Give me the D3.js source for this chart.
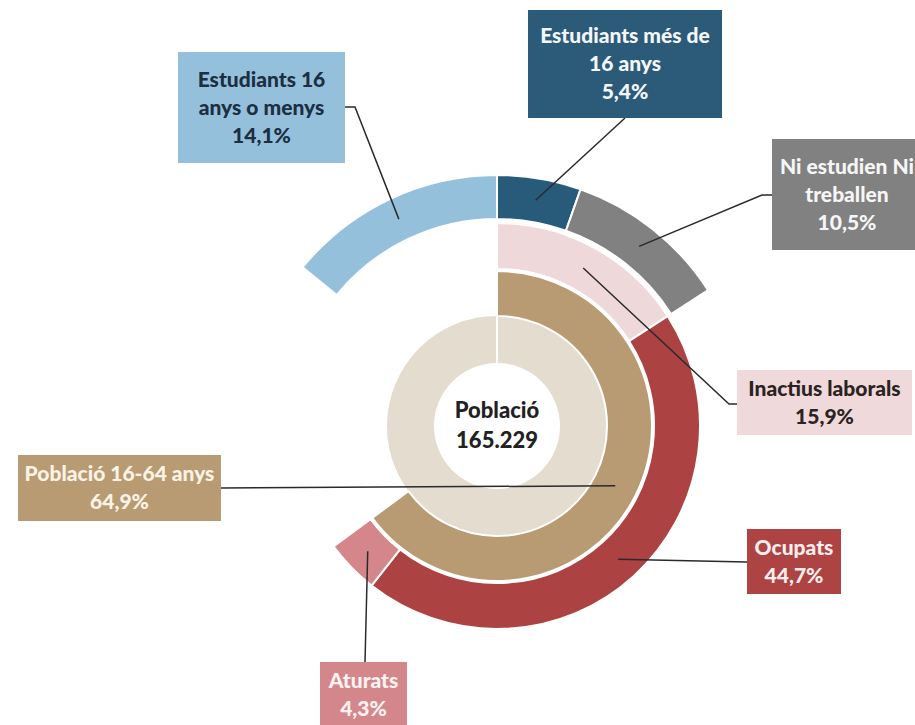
<!DOCTYPE html>
<html>
<head>
<meta charset="utf-8">
<script src="https://cdn.jsdelivr.net/npm/d3@7"></script>
<style>
    body { margin: 0; background: #fff; }
    text { font-family: "Lato", "Open Sans", sans-serif; font-weight: 900; }
</style>
</head>
<body>
<div id="chart"></div>
<script>
// ---------------------------//
//       DATA                 //
// ---------------------------//
let totalLabel = "Població";
let totalValue = 165229;

// ring 2: age
let ageCats = ["Població 16-64 anys"];
let agePct = [64.9];

// ring 3: activity (inside 16-64)
let activityCats = ["Inactius laborals", "Ocupats", "Aturats"];
let activityPct = [15.9, 44.7, 4.3];

// ring 4: studies
let studyCats = ["Estudiants més de 16 anys", "Ni estudien Ni treballen", "Estudiants 16 anys o menys"];
let studyPct = [5.4, 10.5, 14.1];

// set the dimensions of the graph
let width = 915,
    height = 725,
    cx = 497,
    cy = 426;

let locale = d3.formatLocale({ decimal: ",", thousands: ".", grouping: [3], currency: ["", "€"] });
let fmtPct = d => locale.format(".1f")(d) + "%";
let fmtInt = locale.format(",d");

let svg = d3.select("#chart")
    .append("svg")
    .attr("width", width)
    .attr("height", height);

let g = svg.append("g")
    .attr("transform", "translate(" + cx + "," + cy + ")");

// angle scale: percent -> radians, clockwise from top
let angle = d3.scaleLinear()
    .domain([0, 100])
    .range([0, 2 * Math.PI]);

// ring radii
let rings = {
    total: [63, 110],
    age: [110, 155],
    activity: [157, 203],
    study: [207, 251]
};

let arcFor = function (ring) {
    return d3.arc()
        .innerRadius(rings[ring][0])
        .outerRadius(rings[ring][1]);
};

// build segments (start/end in percent)
let cumulative = function (vals) {
    let acc = 0;
    return vals.map(v => {
        let s = acc;
        acc += v;
        return { start: s, end: acc, value: v };
    });
};

let ageSegs = cumulative(agePct).map((d, i) => Object.assign(d, { name: ageCats[i], ring: "age" }));
let activitySegs = cumulative(activityPct).map((d, i) => Object.assign(d, { name: activityCats[i], ring: "activity" }));
// first two studies start at the top, the last one closes the circle
let studySegs = cumulative(studyPct.slice(0, 2)).map((d, i) => Object.assign(d, { name: studyCats[i], ring: "study" }));
studySegs.push({ start: 100 - studyPct[2], end: 100, value: studyPct[2], name: studyCats[2], ring: "study" });

let colors = {
    "Població": "#e3dccf",
    "Població 16-64 anys": "#b89b72",
    "Inactius laborals": "#efd8d9",
    "Ocupats": "#ad4242",
    "Aturats": "#d4868a",
    "Estudiants més de 16 anys": "#285a79",
    "Ni estudien Ni treballen": "#818181",
    "Estudiants 16 anys o menys": "#94c0dc"
};

// ---------------------------//
//       RINGS                //
// ---------------------------//
g.append("path")
    .attr("d", arcFor("total")({ startAngle: 0, endAngle: 2 * Math.PI }))
    .attr("fill", colors["Població"]);

// seam at the top of the total ring
g.append("line")
    .attr("x1", 0).attr("x2", 0)
    .attr("y1", -rings.total[0]).attr("y2", -rings.total[1])
    .attr("stroke", "#fff")
    .attr("stroke-width", 2);

let allSegs = ageSegs.concat(activitySegs, studySegs);

g.selectAll("path.seg")
    .data(allSegs)
    .enter()
    .append("path")
    .attr("class", "seg")
    .attr("d", d => arcFor(d.ring)({ startAngle: angle(d.start), endAngle: angle(d.end) }))
    .attr("fill", d => colors[d.name])
    .attr("stroke", "#fff")
    .attr("stroke-width", 2);

// center text
g.append("text")
    .attr("text-anchor", "middle")
    .attr("y", -16)
    .attr("dy", "0.35em")
    .style("font-size", "22px")
    .style("fill", "#222")
    .text(totalLabel);
g.append("text")
    .attr("text-anchor", "middle")
    .attr("y", 14)
    .attr("dy", "0.35em")
    .style("font-size", "22px")
    .style("fill", "#222")
    .text(fmtInt(totalValue));

// ---------------------------//
//       LABELS               //
// ---------------------------//
let labels = [
    { name: "Estudiants 16 anys o menys", lines: ["Estudiants 16", "anys o menys"], box: [178, 52, 167, 111], fill: "#94c0dc", color: "#1c2e42", from: [345, 107], stub: [355, 107] },
    { name: "Estudiants més de 16 anys", lines: ["Estudiants més de", "16 anys"], box: [528, 10, 194, 108], fill: "#2c5b79", color: "#f4f7fa", from: [625, 118] },
    { name: "Ni estudien Ni treballen", lines: ["Ni estudien Ni", "treballen"], box: [772, 139, 150, 111], fill: "#818181", color: "#f6f6f6", from: [772, 195], stub: [762, 195] },
    { name: "Inactius laborals", lines: ["Inactius laborals"], box: [737, 370, 175, 65], fill: "#efd9da", color: "#2b2222", from: [737, 404], stub: [729, 404] },
    { name: "Ocupats", lines: ["Ocupats"], box: [747, 529, 94, 65], fill: "#ad4343", color: "#fbeeee", from: [747, 562] },
    { name: "Població 16-64 anys", lines: ["Població 16-64 anys"], box: [18, 455, 203, 66], fill: "#b89b72", color: "#fbf3e6", from: [221, 488] },
    { name: "Aturats", lines: ["Aturats"], box: [320, 662, 87, 66], fill: "#d4878b", color: "#fdf3f3", from: [365, 662] }
];

let segByName = {};
allSegs.forEach(d => segByName[d.name] = d);

// leader lines
svg.append("g")
    .selectAll("path")
    .data(labels)
    .enter()
    .append("path")
    .attr("d", function (d) {
        let s = segByName[d.name];
        let c = arcFor(s.ring).centroid({ startAngle: angle(s.start), endAngle: angle(s.end) });
        let pts = [d.from];
        if (d.stub) pts.push(d.stub);
        pts.push([cx + c[0], cy + c[1]]);
        return d3.line()(pts);
    })
    .attr("fill", "none")
    .attr("stroke", "#2a2a2a")
    .attr("stroke-width", 1.5);

let lab = svg.append("g")
    .selectAll("g")
    .data(labels)
    .enter()
    .append("g");

lab.append("rect")
    .attr("x", d => d.box[0])
    .attr("y", d => d.box[1])
    .attr("width", d => d.box[2])
    .attr("height", d => d.box[3])
    .attr("fill", d => d.fill);

lab.each(function (d) {
    let lines = d.lines.concat([fmtPct(segByName[d.name].value)]);
    let lh = 28;
    let mx = d.box[0] + d.box[2] / 2,
        my = d.box[1] + d.box[3] / 2;
    d3.select(this).selectAll("text")
        .data(lines)
        .enter()
        .append("text")
        .attr("x", mx)
        .attr("y", (t, i) => my + (i - (lines.length - 1) / 2) * lh)
        .attr("dy", "0.35em")
        .attr("text-anchor", "middle")
        .style("font-size", "21px")
        .style("fill", d.color)
        .text(t => t);
});
</script>
</body>
</html>
